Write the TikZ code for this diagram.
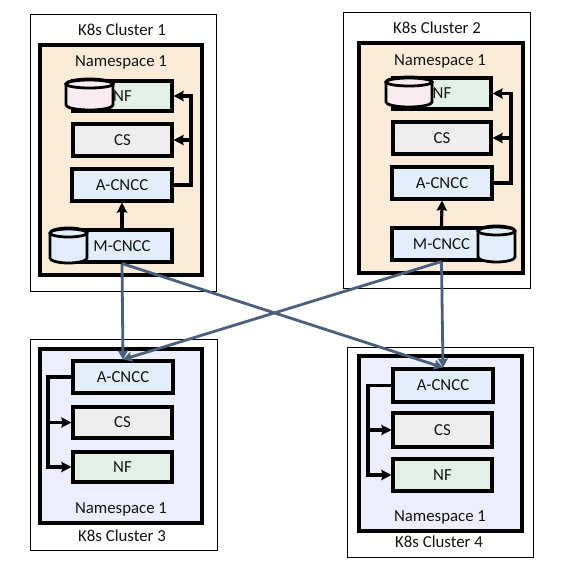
\documentclass[tikz,border=0pt]{standalone}
\usepackage{fontspec}
\setmainfont{Carlito}
\usetikzlibrary{arrows.meta}
\definecolor{nsorange}{HTML}{FBECD9}
\definecolor{nsblue}{HTML}{EBEEFC}
\definecolor{nfgreen}{HTML}{E2F0E6}
\definecolor{csgrey}{HTML}{EFEEEC}
\definecolor{cnccblue}{HTML}{E3EEFB}
\definecolor{cylpink}{HTML}{F9ECEE}
\definecolor{linkgrey}{HTML}{4A5F7C}
\tikzset{
  every node/.style={font=\fontsize{16.8}{18}\selectfont,text=black!92},
  clusterbox/.style={draw=black,line width=1pt,fill=white,inner sep=0pt},
  nsbox/.style={draw=black,line width=3.1pt,inner sep=0pt},
  compbox/.style={draw=black,line width=3.05pt,inner sep=0pt},
  lbl/.style={inner sep=0pt},
  ctl/.style={draw=black,line width=3.1pt,-{Stealth[length=10pt,width=10pt,inset=1pt]}},
  link/.style={draw=linkgrey,line width=2.8pt,-{Stealth[length=9pt,width=10pt,inset=1pt]}},
  cylline/.style={draw=black,line width=2.8pt}
}
% name, x1, y1, x2, y2, style, text
\newcommand{\bx}[7]{\node[#6,minimum width={(#4-#2)*1pt},minimum height={(#5-#3)*1pt}] (#1) at ({(#2+#4)/2},{(#3+#5)/2}) {#7};}
% x1, y1, x2, y2, fill
\newcommand{\cyl}[5]{
  \pgfmathsetmacro{\cx}{(#1+#3)/2}\pgfmathsetmacro{\rx}{(#3-#1)/2}
  \draw[cylline,fill=#5] (#1,#2+5) -- (#1,#4-5) arc[start angle=180,end angle=360,x radius=\rx,y radius=-5] -- (#3,#2+5)
     arc[start angle=0,end angle=180,x radius=\rx,y radius=-5] -- cycle;
  \draw[cylline,fill=#5] (\cx,#2+5) ellipse[x radius=\rx,y radius=4];
}
\begin{document}
\begin{tikzpicture}[x=1pt,y=-1pt]
\useasboundingbox (0,0) rectangle (563,565);
% Cluster 1
\bx{c1}{30}{14}{216}{291}{clusterbox}{}
\bx{n1}{40}{45}{202}{275}{nsbox,fill=nsorange}{}
\node[lbl] (c1l) at (122,30) {K8s Cluster 1};
\node[lbl] (n1l) at (121,62) {Namespace 1};
\bx{nf1}{73}{81}{172}{111}{compbox,fill=nfgreen}{NF}
\bx{cs1}{73}{124}{172}{156}{compbox,fill=csgrey}{CS}
\bx{a1}{72}{169}{172}{201}{compbox,fill=cnccblue}{A-CNCC}
\bx{m1}{72}{230}{172}{262}{compbox,fill=cnccblue}{M-CNCC}
\cyl{66}{79}{113}{110}{cylpink}
\cyl{50}{228}{87}{263}{cnccblue}
% Cluster 2
\bx{c2}{343}{12}{530}{288}{clusterbox}{}
\bx{n2}{359}{43}{523}{273}{nsbox,fill=nsorange}{}
\node[lbl] (c2l) at (437,28) {K8s Cluster 2};
\node[lbl] (n2l) at (440,61) {Namespace 1};
\bx{nf2}{393}{78}{491}{109}{compbox,fill=nfgreen}{NF}
\bx{cs2}{393}{122}{491}{154}{compbox,fill=csgrey}{CS}
\bx{a2}{392}{167}{492}{199}{compbox,fill=cnccblue}{A-CNCC}
\bx{m2}{392}{228}{491}{260}{compbox,fill=cnccblue}{M-CNCC}
\cyl{386}{77}{432}{107}{cylpink}
\cyl{478}{226}{515}{262}{cnccblue}
% Cluster 3
\bx{c3}{30}{339}{217}{550}{clusterbox}{}
\bx{n3}{40}{349}{202}{523}{nsbox,fill=nsblue}{}
\node[lbl] (c3l) at (122,536) {K8s Cluster 3};
\node[lbl] (n3l) at (121,509) {Namespace 1};
\bx{a3}{73}{361}{173}{393}{compbox,fill=cnccblue}{A-CNCC}
\bx{cs3}{73}{407}{172}{438}{compbox,fill=csgrey}{CS}
\bx{nf3}{73}{452}{172}{482}{compbox,fill=nfgreen}{NF}
% Cluster 4
\bx{c4}{347}{347}{533}{557}{clusterbox}{}
\bx{n4}{359}{356}{522}{531}{nsbox,fill=nsblue}{}
\node[lbl] (c4l) at (439,542) {K8s Cluster 4};
\node[lbl] (n4l) at (440,517) {Namespace 1};
\bx{a4}{393}{369}{493}{402}{compbox,fill=cnccblue}{A-CNCC}
\bx{cs4}{393}{413}{492}{447}{compbox,fill=csgrey}{CS}
\bx{nf4}{393}{459}{492}{491}{compbox,fill=nfgreen}{NF}
% Control arrows
\coordinate (bus1) at (cs1.east -| 191,0);
\coordinate (bus2) at (cs2.east -| 511,0);
\coordinate (bus3) at (cs3.west -| 48,0);
\coordinate (bus4) at (cs4.west -| 368,0);
\draw[ctl] (m1.north) -- (a1.south);
\draw[ctl] (m2.north) -- (a2.south);
\draw[ctl] (a1.east) -| (bus1) |- (nf1.east);
\draw[ctl] (bus1) -- (cs1.east);
\draw[ctl] (a2.east) -| (bus2) |- (nf2.east);
\draw[ctl] (bus2) -- (cs2.east);
\draw[ctl] (a3.west) -| (bus3) |- (nf3.west);
\draw[ctl] (bus3) -- (cs3.west);
\draw[ctl] (a4.west) -| (bus4) |- (nf4.west);
\draw[ctl] (bus4) -- (cs4.west);
% Inter-cluster links
\draw[link] (m1.south) -- (a3.north);
\draw[link] (m1.south) -- (a4.north);
\draw[link] (m2.south) -- (a3.north);
\draw[link] (m2.south) -- (a4.north);
\end{tikzpicture}
\end{document}
